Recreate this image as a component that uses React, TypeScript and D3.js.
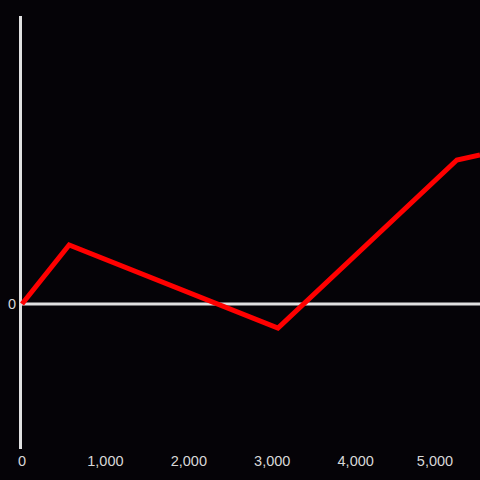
import React from "react";
import * as d3 from "d3";

const xValues = [0, 565, 3068, 5213, 5490];
const yValues = [0, 59, -24, 144, 149];
const xTicks = [0, 1000, 2000, 3000, 4000, 5000];
const yTicks = [0];

const W = 480;
const H = 480;

export default function App() {
  const x = d3.scaleLinear().domain([0, 5490]).range([22, 480]);
  const y = d3.scaleLinear().domain([-145, 288]).range([449, 16]);
  const pts = xValues.map((v, i) => [v, yValues[i]] as [number, number]);
  const line = d3
    .line<[number, number]>()
    .x((d) => x(d[0]))
    .y((d) => y(d[1]));
  const fmt = d3.format(",");
  return (
    <svg
      width={W}
      height={H}
      style={{ position: "absolute", left: 0, top: 0, background: "#050307" }}
      fontFamily="Liberation Sans, Arial, sans-serif"
    >
      <rect x={0} y={0} width={W} height={H} fill="#050307" />
      <line x1={20.5} x2={20.5} y1={16} y2={449} stroke="#e0e0e0" strokeWidth={3} />
      <line x1={19} x2={W} y1={y(0)} y2={y(0)} stroke="#e0e0e0" strokeWidth={3} />
      {xTicks.map((t) => {
        const w = t === 0 ? 8 : 36;
        let cx = x(t);
        if (cx + w / 2 > 453) cx = 453 - w / 2;
        return (
          <text key={t} x={cx} y={466} textAnchor="middle" fontSize={14.5} fill="#d8d8d8">
            {fmt(t)}
          </text>
        );
      })}
      {yTicks.map((t) => (
        <text key={t} x={16} y={y(t) + 5} textAnchor="end" fontSize={14.5} fill="#d8d8d8">
          {fmt(t)}
        </text>
      ))}
      <path d={line(pts) || ""} fill="none" stroke="#ff0000" strokeWidth={5} strokeLinejoin="miter" />
    </svg>
  );
}
